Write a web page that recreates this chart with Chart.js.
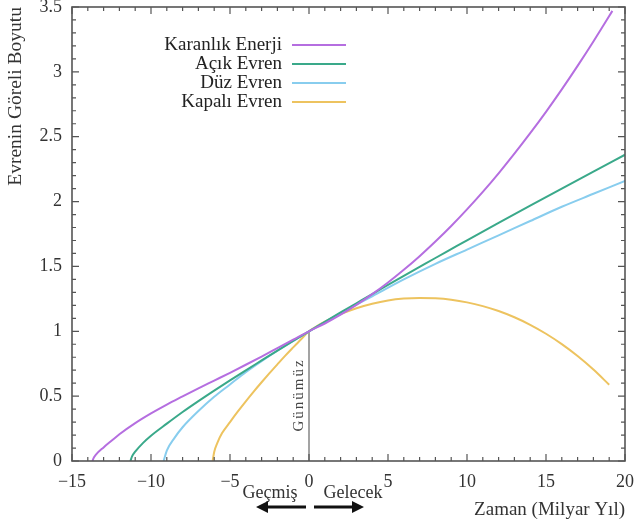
<!DOCTYPE html>
<html>
<head>
<meta charset="utf-8">
<script src="https://cdn.jsdelivr.net/npm/chart.js@4"></script>
<style>
  body { margin: 0; background: #fff; }
</style>
</head>
<body>
<canvas id="chart" width="635" height="527"></canvas>
<script>
const xTicks = [-15, -10, -5, 0, 5, 10, 15, 20];
const yTicks = [0, 0.5, 1, 1.5, 2, 2.5, 3, 3.5];
const seriesNames = ["Karanlık Enerji", "Açık Evren", "Düz Evren", "Kapalı Evren"];

// Karanlık enerji
const darkT = [-13.7, -13.65, -13.5, -13, -12.5, -12, -11, -10, -9, -8, -7, -6, -5, -4, -3, -2, -1, 0,
  1, 2, 3, 4, 5, 6, 7, 8, 9, 10, 11, 12, 13, 14, 15, 16, 17, 18, 19, 19.2];
const darkA = [0, 0.019, 0.047, 0.105, 0.156, 0.206, 0.292, 0.367, 0.435, 0.498, 0.56, 0.62, 0.68, 0.742, 0.805, 0.87, 0.935, 1,
  1.06, 1.128, 1.203, 1.286, 1.376, 1.474, 1.579, 1.692, 1.812, 1.94, 2.075, 2.218, 2.369, 2.527, 2.692, 2.865, 3.046, 3.234, 3.43, 3.47];

// Açık evren
const openT = [-11.3, -11.2, -11, -10.5, -10, -9, -8, -7, -6, -5, -4, -3, -2, -1, 0,
  1, 2, 3, 4, 5, 6, 7, 8, 9, 10, 12, 14, 16, 18, 20];
const openA = [0, 0.035, 0.072, 0.14, 0.195, 0.288, 0.378, 0.462, 0.543, 0.622, 0.699, 0.775, 0.851, 0.926, 1,
  1.073, 1.145, 1.216, 1.287, 1.357, 1.427, 1.496, 1.565, 1.633, 1.701, 1.835, 1.968, 2.1, 2.231, 2.361];

// Düz evren
const flatT = [-9.2, -9, -8.5, -8, -7, -6, -5, -4, -3, -2, -1, 0,
  2, 4, 6, 8, 10, 12, 14, 16, 18, 20];
const flatA = [0, 0.08, 0.18, 0.26, 0.385, 0.495, 0.59, 0.685, 0.77, 0.85, 0.925, 1,
  1.14, 1.27, 1.4, 1.52, 1.63, 1.74, 1.85, 1.96, 2.06, 2.16];

// Kapalı evren
const closedT = [-6.1, -6, -5.8, -5.5, -5, -4.5, -4, -3.5, -3, -2.5, -2, -1.5, -1, -0.5, 0,
  0.5, 1, 2, 3, 4, 5, 6, 7, 8, 9, 10, 11, 12, 13, 14, 15, 16, 17, 18, 19];
const closedA = [0, 0.07, 0.14, 0.215, 0.3, 0.382, 0.46, 0.535, 0.607, 0.677, 0.745, 0.812, 0.876, 0.939, 1,
  1.04, 1.074, 1.132, 1.178, 1.213, 1.238, 1.252, 1.257, 1.254, 1.243, 1.223, 1.194, 1.156, 1.108, 1.05, 0.981, 0.901, 0.809, 0.705, 0.588];

const todayT = [0, 0];
const todayA = [0, 1];

const colors = ["#b56ee0", "#3aa98a", "#88cdee", "#edc35f"];
const serif = "'Liberation Serif', 'DejaVu Serif', serif";

function pts(xs, ys) {
  return xs.map((x, i) => ({ x, y: ys[i] }));
}

function curve(i, xs, ys) {
  return {
    label: seriesNames[i],
    data: pts(xs, ys),
    borderColor: colors[i],
    borderWidth: 2,
    pointRadius: 0,
    cubicInterpolationMode: "monotone",
    fill: false,
  };
}

const overlay = {
  id: "overlay",
  afterDatasetsDraw(chart) {
    const { ctx, chartArea: a, scales: { x, y } } = chart;
    ctx.save();

    // inward ticks on all four sides
    ctx.strokeStyle = "#555";
    ctx.lineWidth = 1.2;
    ctx.beginPath();
    for (let v = -15; v <= 20; v++) {
      const px = x.getPixelForValue(v);
      const len = v % 5 === 0 ? 7 : 4;
      ctx.moveTo(px, a.bottom); ctx.lineTo(px, a.bottom - len);
      ctx.moveTo(px, a.top); ctx.lineTo(px, a.top + len);
    }
    for (let i = 0; i <= 35; i++) {
      const py = y.getPixelForValue(i / 10);
      const len = i % 5 === 0 ? 7 : 4;
      ctx.moveTo(a.left, py); ctx.lineTo(a.left + len, py);
      ctx.moveTo(a.right, py); ctx.lineTo(a.right - len, py);
    }
    ctx.stroke();
    ctx.lineWidth = 1.6;
    ctx.strokeRect(a.left, a.top, a.width, a.height);

    // legend
    ctx.font = "19px " + serif;
    ctx.textAlign = "right";
    ctx.textBaseline = "middle";
    seriesNames.forEach((name, i) => {
      const ly = 45 + i * 19;
      ctx.fillStyle = "#222";
      ctx.fillText(name, 282, ly);
      ctx.strokeStyle = colors[i];
      ctx.lineWidth = 2;
      ctx.beginPath();
      ctx.moveTo(292, ly);
      ctx.lineTo(346, ly);
      ctx.stroke();
    });

    // Günümüz label
    const x0 = x.getPixelForValue(0);
    ctx.save();
    ctx.translate(x0 - 10, 395);
    ctx.rotate(-Math.PI / 2);
    ctx.textAlign = "center";
    ctx.fillStyle = "#444";
    ctx.font = "15px " + serif;
    ctx.letterSpacing = "2px";
    ctx.fillText("Günümüz", 0, 0);
    ctx.restore();

    // Geçmiş / Gelecek with arrows
    ctx.font = "18px " + serif;
    ctx.textAlign = "center";
    ctx.fillStyle = "#333";
    ctx.fillText("Geçmiş", x0 - 39, 493);
    ctx.fillText("Gelecek", x0 + 44, 493);

    ctx.fillStyle = "#111";
    ctx.strokeStyle = "#111";
    ctx.lineWidth = 3;
    const ay = 507;
    ctx.beginPath();
    ctx.moveTo(x0 - 3, ay); ctx.lineTo(x0 - 44, ay);
    ctx.moveTo(x0 + 5, ay); ctx.lineTo(x0 + 46, ay);
    ctx.stroke();
    ctx.beginPath();
    ctx.moveTo(x0 - 53, ay); ctx.lineTo(x0 - 41, ay - 6); ctx.lineTo(x0 - 41, ay + 6); ctx.closePath();
    ctx.moveTo(x0 + 55, ay); ctx.lineTo(x0 + 43, ay - 6); ctx.lineTo(x0 + 43, ay + 6); ctx.closePath();
    ctx.fill();

    ctx.restore();
  },
};

new Chart(document.getElementById("chart"), {
  type: "line",
  data: {
    datasets: [
      curve(0, darkT, darkA),
      curve(1, openT, openA),
      curve(2, flatT, flatA),
      curve(3, closedT, closedA),
      {
        label: "today",
        data: pts(todayT, todayA),
        borderColor: "#666",
        borderWidth: 1.2,
        pointRadius: 0,
      },
    ],
  },
  options: {
    responsive: false,
    animation: false,
    layout: { padding: { top: 7, right: 10, left: 0, bottom: 0 } },
    plugins: {
      legend: { display: false },
      tooltip: { enabled: false },
    },
    scales: {
      x: {
        type: "linear",
        min: -15,
        max: 20,
        afterBuildTicks: (s) => { s.ticks = xTicks.map((v) => ({ value: v })); },
        afterFit: (s) => { s.height = 66; s.paddingRight = 0; s.paddingLeft = 0; },
        grid: { display: false, drawTicks: false },
        border: { display: false },
        ticks: {
          padding: 10,
          color: "#333",
          font: { family: serif, size: 18 },
          callback: (v) => String(v).replace("-", "\u2212"),
        },
        title: {
          display: true,
          text: "Zaman (Milyar Yıl)",
          align: "end",
          color: "#333",
          font: { family: serif, size: 19 },
          padding: { top: 0, bottom: 6 },
        },
      },
      y: {
        min: 0,
        max: 3.5,
        afterBuildTicks: (s) => { s.ticks = yTicks.map((v) => ({ value: v })); },
        afterFit: (s) => { s.width = 72; s.paddingTop = 0; s.paddingBottom = 0; },
        grid: { display: false, drawTicks: false },
        border: { display: false },
        ticks: {
          padding: 10,
          color: "#333",
          font: { family: serif, size: 18 },
          callback: (v) => String(v),
        },
        title: {
          display: true,
          text: "Evrenin Göreli Boyutu",
          align: "end",
          color: "#333",
          font: { family: serif, size: 19.5 },
          padding: { top: 4, bottom: 0 },
        },
      },
    },
  },
  plugins: [overlay],
});
</script>
</body>
</html>
